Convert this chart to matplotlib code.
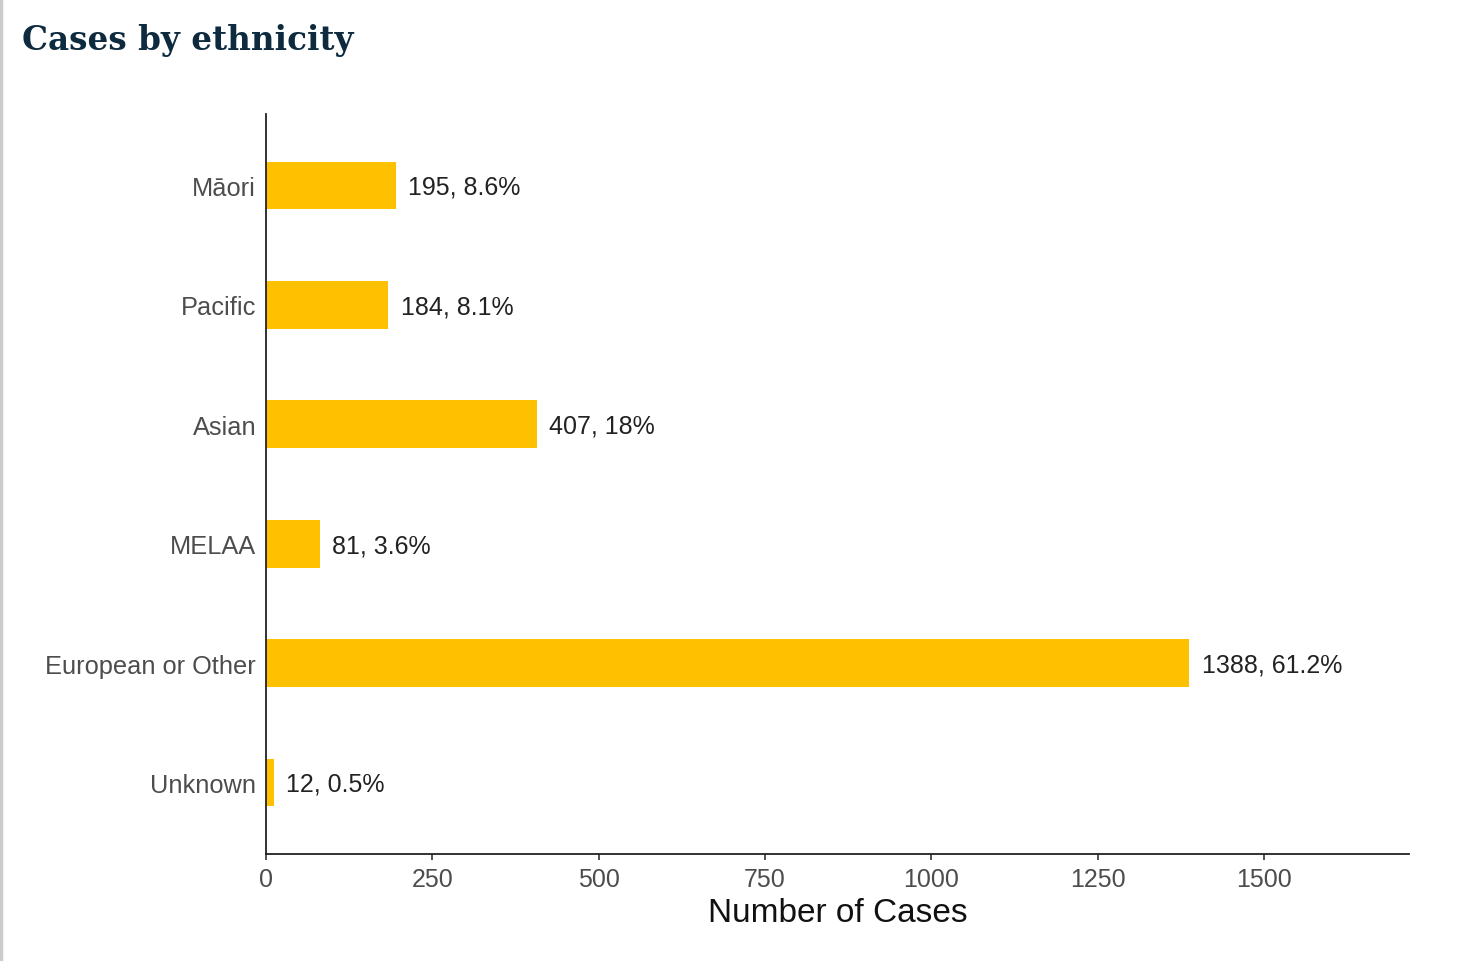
import matplotlib
matplotlib.use("Agg")
import matplotlib.pyplot as plt

# data
ethnicities = ["Māori", "Pacific", "Asian", "MELAA", "European or Other", "Unknown"]
cases = [195, 184, 407, 81, 1388, 12]
percents = ["8.6%", "8.1%", "18%", "3.6%", "61.2%", "0.5%"]
x_ticks = [0, 250, 500, 750, 1000, 1250, 1500]

plt.rcParams["font.family"] = ["Liberation Sans", "DejaVu Sans"]

fig = plt.figure(figsize=(14.58, 9.62), dpi=100)
ax = fig.add_axes([0.1824, 0.1112, 0.7840, 0.7693])

pos = list(range(len(ethnicities)))[::-1]
ax.barh(pos, cases, height=0.4, color="#FFC000", zorder=2)

for p, c, pct in zip(pos, cases, percents):
    ax.annotate(f"{c}, {pct}", xy=(c, p), xytext=(9, -1), textcoords="offset points",
                va="center", ha="left", fontsize=18, color="#222222")

ax.set_yticks(pos)
ax.set_yticklabels(ethnicities)
ax.set_xticks(x_ticks)
ax.set_xlim(0, 1718)
ax.set_ylim(-0.6, 5.6)

for side in ["top", "right"]:
    ax.spines[side].set_visible(False)
for side in ["left", "bottom"]:
    ax.spines[side].set_color("#222222")
    ax.spines[side].set_linewidth(1.3)

ax.tick_params(axis="y", length=0, pad=7, labelsize=18.3, labelcolor="#4d4d4d")
ax.tick_params(axis="x", length=4, width=1.2, color="#333333", pad=5, labelsize=18, labelcolor="#4d4d4d")
ax.set_xlabel("Number of Cases", fontsize=24, color="#111111", labelpad=5)

fig.text(0.015, 0.958, "Cases by ethnicity", family=["DejaVu Serif"], fontweight="bold",
         fontsize=23.5, color="#0d2a3f", va="center", ha="left")

# thin grey border on the left edge
fig.add_artist(plt.Line2D([0.001, 0.001], [0, 1], color="#cccccc", linewidth=2.5,
                          transform=fig.transFigure))

fig.savefig("out.png", dpi=100)
